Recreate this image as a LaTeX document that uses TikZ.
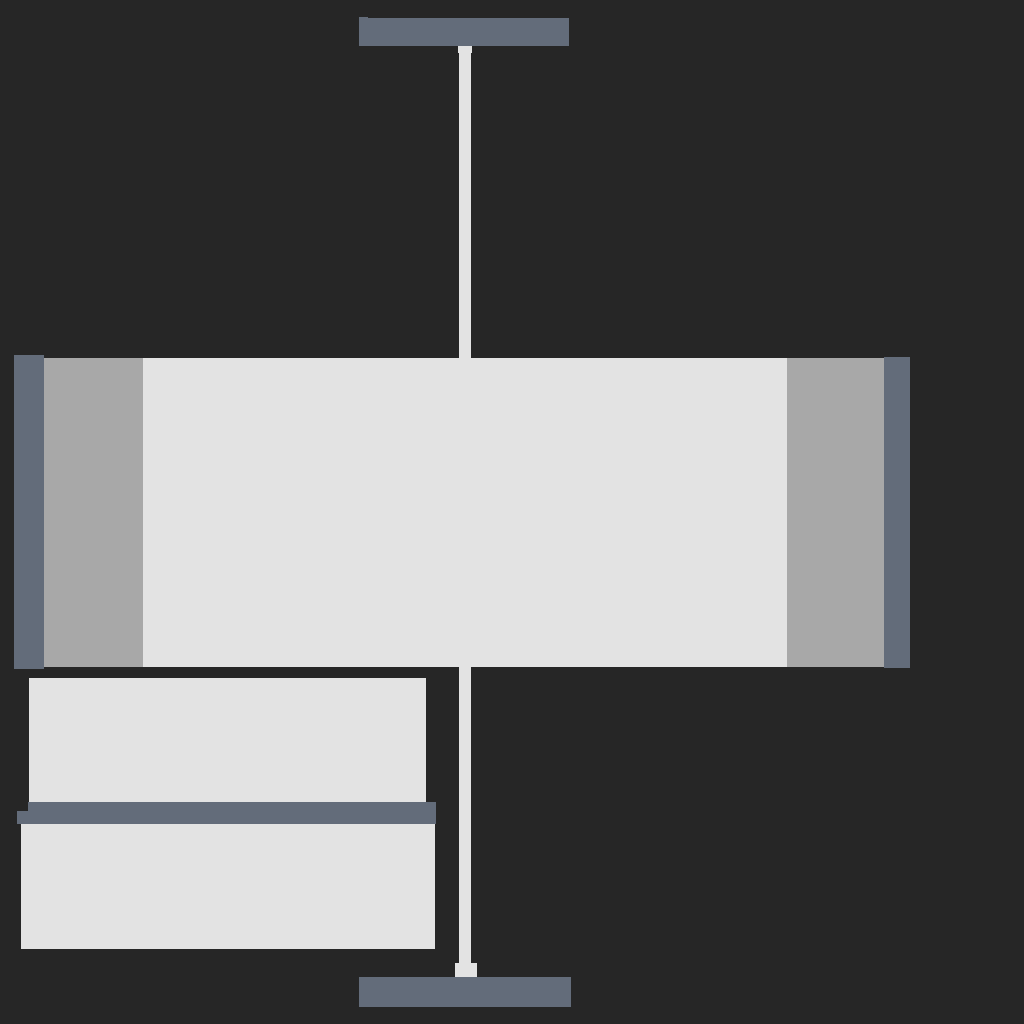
\documentclass[tikz,border=0pt]{standalone}
\usepackage{tikz}
\usetikzlibrary{positioning}
\definecolor{bg}{HTML}{262626}
\definecolor{pale}{HTML}{E3E3E3}
\definecolor{shade}{HTML}{A8A8A8}
\definecolor{slate}{HTML}{636C7A}
\tikzstyle{plate} = [fill=slate]
\tikzstyle{panel} = [fill=pale]
\tikzstyle{wing} = [fill=shade]
\tikzstyle{rod} = [fill=pale]

\begin{document}
\begin{tikzpicture}
        [x=0.01cm, y=-0.01cm]
        \fill [bg] (0,0) rectangle (1024,1024);
        \useasboundingbox (0,0) rectangle (1024,1024);
        % top bar and rod
        \fill [plate] (359,18) rectangle (569,46);
        \fill [plate] (359,17) rectangle (368,18);
        \fill [rod] (458,46) rectangle (472,53);
        \fill [rod] (459,53) rectangle (471,358);
        % main body
        \fill [wing] (44,358) rectangle (143,667);
        \fill [panel] (143,358) rectangle (787,667);
        \fill [wing] (787,358) rectangle (884,667);
        \fill [plate] (14,355) rectangle (44,669);
        \fill [plate] (884,357) rectangle (910,668);
        % lower rod and bottom bar
        \fill [rod] (459,667) rectangle (471,963);
        \fill [rod] (455,963) rectangle (477,977);
        \fill [plate] (359,977) rectangle (571,1007);
        % lower boxes
        \fill [panel] (29,678) rectangle (426,802);
        \fill [plate] (28,802) rectangle (436,824);
        \fill [plate] (17,811) rectangle (28,824);
        \fill [panel] (21,824) rectangle (435,949);
    \end{tikzpicture}
\end{document}
